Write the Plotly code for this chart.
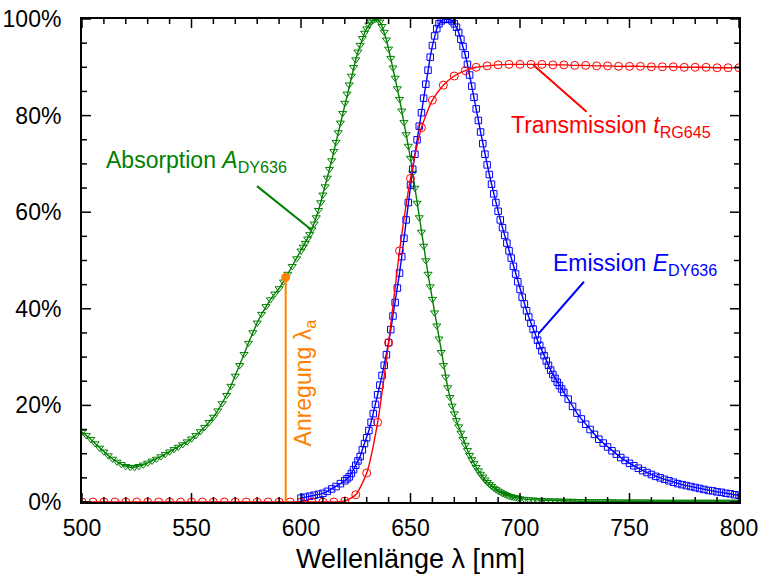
import plotly.graph_objects as go

# ---------------- data ----------------
# Absorption A_DY636 (green), in %
green_wl = list(range(500, 600, 2)) + list(range(600, 700, 1)) + list(range(700, 801, 2))
green_abs = [
    14.5, 13.8, 13.0, 12.1, 11.2, 10.4, 9.6, 8.9, 8.3, 7.8,
    7.4, 7.2, 7.2, 7.4, 7.7, 8.1, 8.5, 8.9, 9.4, 9.9,
    10.4, 10.9, 11.4, 11.9, 12.5, 13.1, 13.8, 14.6, 15.5, 16.5,
    17.6, 18.9, 20.4, 22.1, 24.0, 26.1, 28.3, 30.6, 32.9, 35.1,
    37.1, 38.9, 40.5, 41.9, 43.1, 44.2, 45.6, 47.2, 48.8, 50.4,
    # 600-699 (1 nm)
    52.0, 52.8, 53.6, 54.5, 55.4, 56.4, 57.6, 58.9, 60.4, 62.0,
    63.6, 65.3, 67.1, 68.9, 70.7, 72.6, 74.5, 76.5, 78.5, 80.5,
    82.6, 84.5, 86.4, 88.2, 90.0, 91.6, 93.2, 94.6, 96.0, 97.1,
    98.0, 98.8, 99.4, 99.8, 100.0, 99.9, 99.4, 98.5, 97.3, 95.7,
    93.8, 91.9, 89.9, 87.8, 85.6, 83.4, 81.0, 78.6, 76.1, 73.7,
    71.2, 68.1, 65.0, 61.9, 58.9, 55.9, 53.0, 50.0, 47.2, 44.6,
    42.0, 39.2, 36.5, 33.8, 31.0, 28.3, 25.9, 23.7, 21.7, 19.9,
    18.3, 16.9, 15.6, 14.3, 13.0, 11.8, 10.7, 9.7, 8.8, 8.0,
    7.2, 6.5, 5.8, 5.2, 4.6, 4.1, 3.7, 3.3, 2.9, 2.6,
    2.3, 2.1, 1.8, 1.6, 1.4, 1.2, 1.1, 1.0, 0.9, 0.8,
    # 700-800 (2 nm)
    0.7, 0.6, 0.5, 0.45, 0.4, 0.35, 0.3, 0.3, 0.25, 0.25,
    0.2, 0.2, 0.2, 0.15, 0.15, 0.15, 0.1, 0.1, 0.1, 0.1,
    0.1, 0.1, 0.05, 0.05, 0.05, 0.05, 0.05, 0.05, 0.05, 0.05,
    0.0, 0.0, 0.0, 0.0, 0.0, 0.0, 0.0, 0.0, 0.0, 0.0,
    0.0, 0.0, 0.0, 0.0, 0.0, 0.0, 0.0, 0.0, 0.0, 0.0, 0.0,
]

# Emission E_DY636 (blue), in %
blue_wl = list(range(600, 620, 2)) + list(range(620, 720, 1)) + list(range(720, 801, 2))
blue_em = [
    0.8, 1.0, 1.2, 1.4, 1.6, 1.8, 2.2, 2.7, 3.2, 3.8,
    # 620-719 (1 nm)
    4.4, 4.8, 5.2, 5.9, 6.7, 7.6, 8.5, 9.4, 10.8, 12.1,
    13.3, 14.8, 16.5, 18.3, 20.2, 22.2, 24.2, 26.2, 28.3, 30.5,
    33.0, 35.7, 38.5, 41.3, 44.3, 47.4, 50.8, 54.6, 58.4, 62.0,
    65.6, 68.9, 72.0, 75.0, 77.8, 80.6, 83.6, 86.5, 89.4, 92.1,
    94.5, 96.5, 98.0, 99.0, 99.6, 99.9, 100.0, 100.0, 99.9, 99.6,
    99.0, 98.3, 97.2, 95.8, 94.3, 92.6, 90.6, 88.4, 86.1, 83.8,
    81.4, 79.0, 76.6, 74.2, 72.0, 69.8, 67.8, 65.8, 63.8, 62.0,
    60.2, 58.4, 56.8, 55.2, 53.6, 52.0, 50.5, 48.8, 47.2, 45.6,
    44.0, 42.4, 41.0, 39.6, 38.3, 37.0, 35.8, 34.6, 33.5, 32.4,
    31.3, 30.3, 29.2, 28.3, 27.3, 26.4, 25.6, 24.8, 24.1, 23.4,
    # 720-800 (2 nm)
    22.7, 21.3, 19.8, 18.4, 17.2, 16.1, 15.0, 14.0, 13.0, 12.2,
    11.4, 10.6, 9.9, 9.2, 8.6, 8.0, 7.5, 7.0, 6.5, 6.1,
    5.7, 5.3, 5.0, 4.7, 4.4, 4.1, 3.8, 3.6, 3.4, 3.2,
    3.0, 2.8, 2.6, 2.4, 2.3, 2.1, 2.0, 1.8, 1.7, 1.5,
    1.4,
]

# Transmission t_RG645 (red), in %
red_wl = list(range(500, 801, 5))
red_trans = [
    0, 0, 0, 0, 0, 0, 0, 0, 0, 0, 0, 0,
    0, 0, 0, 0, 0, 0, 0, 0, 0, 0, 0, 0,
    0.2, 1.5, 6.0, 16.5, 33.0, 52.0, 67.0, 77.5, 83.2, 86.3,
    88.2, 89.3, 90.0, 90.3, 90.5, 90.6, 90.6, 90.6, 90.6, 90.5,
    90.5, 90.4, 90.4, 90.3, 90.3, 90.2, 90.2, 90.2, 90.1, 90.1,
    90.1, 90.0, 90.0, 90.0, 89.9, 89.9, 89.9,
]

# Excitation wavelength (orange marker line)
excitation_wl = 593
excitation_level = 46.5

x_ticks = [500, 550, 600, 650, 700, 750, 800]
x_minor_ticks = [v for v in range(510, 800, 10) if v % 50 != 0]
y_ticks = [0, 20, 40, 60, 80, 100]
y_minor_ticks = [v for v in range(5, 100, 5) if v % 20 != 0]
y_tick_labels = ["0%", "20%", "40%", "60%", "80%", "100%"]

GREEN = "#008000"
BLUE = "#0000FF"
RED = "#FF0000"
ORANGE = "#FF8000"
FONT = "Liberation Sans, Arial, sans-serif"
X_RANGE = [500, 800]
Y_RANGE = [0, 100]

W, H = 761, 578
M = dict(l=82, r=22, t=19, b=76)
PLOT_W = W - M["l"] - M["r"]
PLOT_H = H - M["t"] - M["b"]
def xlen(px):
    return px * (X_RANGE[1] - X_RANGE[0]) / PLOT_W
def ylen(px):
    return px * (Y_RANGE[1] - Y_RANGE[0]) / PLOT_H

fig = go.Figure()

fig.add_trace(go.Scatter(
    x=green_wl, y=green_abs, mode="lines+markers",
    line=dict(color=GREEN, width=1.4),
    marker=dict(symbol="triangle-down-open", size=7, color=GREEN, line=dict(width=1)),
))
fig.add_trace(go.Scatter(
    x=blue_wl, y=blue_em, mode="lines+markers",
    line=dict(color=BLUE, width=1.4),
    marker=dict(symbol="square-open", size=6.5, color=BLUE, line=dict(width=1)),
))
fig.add_trace(go.Scatter(
    x=red_wl, y=red_trans, mode="lines+markers",
    line=dict(color=RED, width=1.4, shape="spline", smoothing=0.6),
    marker=dict(symbol="circle-open", size=8, color=RED, line=dict(width=1)),
))
# excitation line
fig.add_trace(go.Scatter(
    x=[excitation_wl, excitation_wl], y=[0, excitation_level], mode="lines",
    line=dict(color=ORANGE, width=2),
))
fig.add_trace(go.Scatter(
    x=[excitation_wl], y=[excitation_level], mode="markers",
    marker=dict(symbol="circle", size=9, color=ORANGE),
    cliponaxis=False,
))

# inward tick marks on all four sides, drawn as one line trace built from the tick arrays
tick_x, tick_y = [], []
for vals, length in ((x_ticks, 9), (x_minor_ticks, 5)):
    for v in vals:
        tick_x += [v, v, None, v, v, None]
        tick_y += [Y_RANGE[0], Y_RANGE[0] + ylen(length), None,
                   Y_RANGE[1], Y_RANGE[1] - ylen(length), None]
for vals, length in ((y_ticks, 9), (y_minor_ticks, 5)):
    for v in vals:
        tick_x += [X_RANGE[0], X_RANGE[0] + xlen(length), None,
                   X_RANGE[1], X_RANGE[1] - xlen(length), None]
        tick_y += [v, v, None, v, v, None]
fig.add_trace(go.Scatter(
    x=tick_x, y=tick_y, mode="lines", line=dict(color="black", width=1.5),
    hoverinfo="skip", cliponaxis=False, connectgaps=False,
))

# leader lines
fig.add_shape(type="line", xref="x", yref="y", x0=579.9, y0=65.4, x1=604.9, y1=56.3,
              line=dict(color=GREEN, width=2))
fig.add_shape(type="line", xref="x", yref="y", x0=706.1, y0=90.5, x1=730.4, y1=80.8,
              line=dict(color=RED, width=2))
fig.add_shape(type="line", xref="x", yref="y", x0=729.2, y0=45.6, x1=708.4, y1=34.8,
              line=dict(color=BLUE, width=2))

fig.add_annotation(x=510.1, y=70.5, xref="x", yref="y", xanchor="left", yanchor="middle",
                   text="Absorption <i>A</i><sub>DY636</sub>", showarrow=False,
                   font=dict(family=FONT, size=23, color=GREEN))
fig.add_annotation(x=694.9, y=77.8, xref="x", yref="y", xanchor="left", yanchor="middle",
                   text="Transmission <i>t</i><sub>RG645</sub>", showarrow=False,
                   font=dict(family=FONT, size=23, color=RED))
fig.add_annotation(x=714.1, y=49.2, xref="x", yref="y", xanchor="left", yanchor="middle",
                   text="Emission <i>E</i><sub>DY636</sub>", showarrow=False,
                   font=dict(family=FONT, size=23, color=BLUE))
fig.add_annotation(x=601.5, y=24.6, xref="x", yref="y", xanchor="center", yanchor="middle",
                   text="Anregung λ<sub>a</sub>", textangle=-90, showarrow=False,
                   font=dict(family=FONT, size=23, color=ORANGE))

fig.update_xaxes(
    range=X_RANGE, tickmode="array", tickvals=x_ticks,
    showline=True, linecolor="black", linewidth=2, mirror=True,
    ticks="", showgrid=False, zeroline=False, automargin=False,
    tickfont=dict(family=FONT, size=23, color="black"),
    ticklabelstandoff=4,
    title=dict(text="Wellenlänge λ [nm]", font=dict(family=FONT, size=27, color="black"), standoff=10),
)
fig.update_yaxes(
    range=Y_RANGE, tickmode="array", tickvals=y_ticks, ticktext=y_tick_labels,
    showline=True, linecolor="black", linewidth=2, mirror=True,
    ticks="", showgrid=False, zeroline=False, automargin=False,
    ticklabelstandoff=14,
    tickfont=dict(family=FONT, size=23, color="black"),
)

fig.update_layout(
    width=W, height=H,
    margin=dict(**M, autoexpand=False),
    paper_bgcolor="white", plot_bgcolor="white",
    showlegend=False,
    font=dict(family=FONT, color="black"),
)

fig.write_html("out.html")
